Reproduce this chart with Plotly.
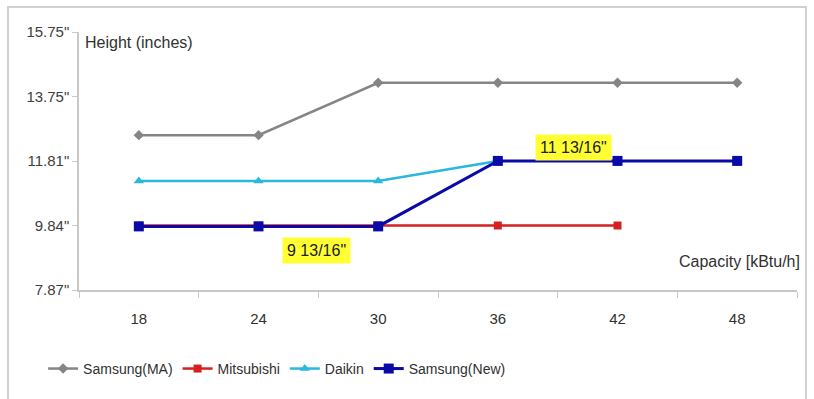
import plotly.graph_objects as go

categories = ["18", "24", "30", "36", "42", "48"]
samsung_ma = [12.6, 12.6, 14.2, 14.2, 14.2, 14.2]
mitsubishi = [9.84, 9.84, 9.84, 9.84, 9.84, None]
daikin = [11.2, 11.2, 11.2, 11.81, None, None]
samsung_new = [9.8125, 9.8125, 9.8125, 11.8125, 11.8125, 11.8125]

y_tickvals = [7.87, 9.84, 11.81, 13.78, 15.75]
y_ticktext = ['7.87"', '9.84"', '11.81"', '13.75"', '15.75"']

label_low = '9 13/16"'
label_high = '11 13/16"'

font_main = "Liberation Sans, Arial"

fig = go.Figure()
fig.add_trace(go.Scatter(x=categories, y=samsung_ma, name="Samsung(MA)", mode="lines+markers",
                         line=dict(color="#858585", width=2.5),
                         marker=dict(symbol="diamond", size=8, color="#858585")))
fig.add_trace(go.Scatter(x=categories, y=mitsubishi, name="Mitsubishi", mode="lines+markers",
                         line=dict(color="#d42020", width=2.5),
                         marker=dict(symbol="square", size=8, color="#d42020")))
fig.add_trace(go.Scatter(x=categories, y=daikin, name="Daikin", mode="lines+markers",
                         line=dict(color="#2ab8dc", width=2.5),
                         marker=dict(symbol="triangle-up", size=9, color="#2ab8dc")))
fig.add_trace(go.Scatter(x=categories, y=samsung_new, name="Samsung(New)", mode="lines+markers",
                         line=dict(color="#0a0aa8", width=3),
                         marker=dict(symbol="square", size=10, color="#0a0aa8")))

fig.update_layout(
    width=814, height=399,
    margin=dict(l=79, r=17, t=32, b=109),
    paper_bgcolor="white", plot_bgcolor="white",
    font=dict(family=font_main, size=14, color="#404040"),
    showlegend=True,
    legend=dict(orientation="h", x=-0.05, xanchor="left", y=-0.306, yanchor="middle",
                font=dict(size=14, color="#303030"), itemwidth=30, tracegroupgap=0),
    xaxis=dict(type="category", range=[-0.5, 5.5], showline=True, linecolor="#c8c8c8", linewidth=1.5,
               ticks="outside", tickson="boundaries", ticklen=6, tickcolor="#c8c8c8",
               ticklabelstandoff=14,
               showgrid=False, zeroline=False, tickfont=dict(size=15, color="#303030")),
    yaxis=dict(range=[7.87, 15.75], tickvals=y_tickvals, ticktext=y_ticktext, showline=True,
               linecolor="#c8c8c8", linewidth=1.5, ticks="outside", ticklen=5, tickcolor="#c8c8c8",
               showgrid=False, zeroline=False, tickfont=dict(size=15, color="#404040")),
    shapes=[dict(type="rect", xref="paper", yref="paper", x0=-0.0989, x1=1.0125, y0=-0.45, y1=1.097,
                 line=dict(color="#d0d0d0", width=2), fillcolor="rgba(0,0,0,0)", layer="below")],
    annotations=[
        dict(text="Height (inches)", xref="paper", yref="paper", x=0.006, y=0.961, xanchor="left",
             yanchor="middle", showarrow=False, font=dict(size=16, color="#303030")),
        dict(text="Capacity [kBtu/h]", xref="paper", yref="paper", x=1.007, y=0.109, xanchor="right",
             yanchor="middle", showarrow=False, font=dict(size=16, color="#303030")),
        dict(text=label_low, xref="paper", yref="paper", x=0.331, y=0.155, xanchor="center",
             yanchor="middle", showarrow=False, bgcolor="#ffff33", borderpad=4,
             font=dict(size=16, color="#202020")),
        dict(text=label_high, xref="paper", yref="paper", x=0.689, y=0.554, xanchor="center",
             yanchor="middle", showarrow=False, bgcolor="#ffff33", borderpad=4,
             font=dict(size=16, color="#202020")),
    ],
)

fig.write_html("out.html")
